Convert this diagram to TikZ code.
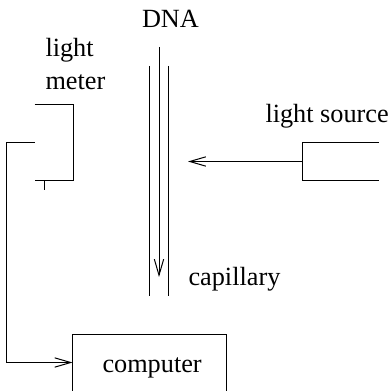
\documentclass[tikz,border=0pt]{standalone}
\usepackage{fontspec}
\setmainfont{Liberation Serif}
\usetikzlibrary{arrows.meta}

\begin{document}
\begin{tikzpicture}
[x=0.75pt,y=-0.75pt,>={Straight Barb[length=12pt,width=7pt]}]

    \tikzstyle{every node}=[inner sep=0pt,anchor=base west,font=\fontsize{19.7}{19.7}\selectfont]
    \tikzstyle{every path}=[line width=0.75pt]

    \useasboundingbox (0,0) rectangle (392,391);

    % The labels
    \node (dna) at (141.5,28) {DNA};
    \node (light) at (45,57) {light};
    \node (meter) at (45,90) {meter};
    \node (source) at (265,123) {light source};
    \node (capillary) at (188,286) {capillary};
    \node (computer) at (102,372) {computer};

    % The capillary, with the DNA going down it
    \coordinate (captopl) at (149,66);
    \coordinate (capbotl) at (149,296);
    \coordinate (captopr) at (168.5,66);
    \coordinate (capbotr) at (168.5,296);
    \coordinate (dnatop) at (159,47);
    \coordinate (dnabot) at (159,277);
    \draw (captopl) -- (capbotl);
    \draw (captopr) -- (capbotr);
    \draw[->] (dnatop) -- (dnabot);

    % This is the light source, its right side is left open:
    \coordinate (srctop) at (379,142.5);
    \coordinate (srcbot) at (379,181);
    \coordinate (srcout) at (302,161.5);
    \coordinate (srchit) at (188,161.5);
    \draw (srctop) -- (srcout |- srctop) -- (srcout |- srcbot) -- (srcbot);
    \draw[->] (srcout) -- (srchit);

    % The light meter
    \coordinate (mettop) at (34.5,104.5);
    \coordinate (metbot) at (34.5,181);
    \coordinate (metcor) at (73,104.5);
    \coordinate (tickup) at (44,181);
    \coordinate (tickdn) at (44,190);
    \draw (mettop) -- (metcor) -- (metcor |- metbot) -- (metbot);
    \draw (tickup) -- (tickdn);

    % The computer, running off the bottom, and the wire to it
    \coordinate (comptl) at (72.5,334);
    \coordinate (comptr) at (226,334);
    \coordinate (compin) at (72.5,362.5);
    \coordinate (wireout) at (34.5,142.5);
    \coordinate (wirecor) at (6,142.5);
    \draw (72.5,391) -- (comptl) -- (comptr) -- (226,391);
    \draw[->] (wireout) -- (wirecor) -- (wirecor |- compin) -- (compin);

\end{tikzpicture}
\end{document}
